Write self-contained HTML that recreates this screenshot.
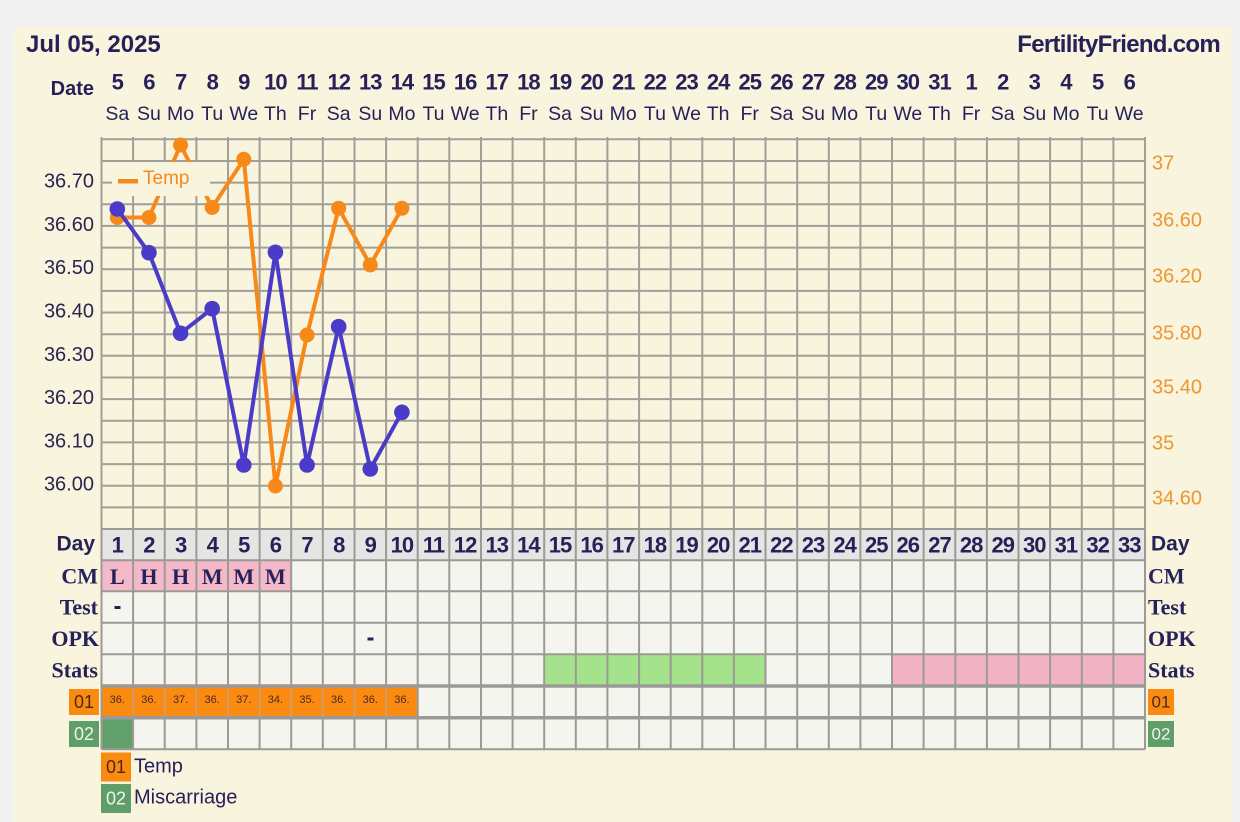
<!DOCTYPE html>
<html><head><meta charset="utf-8"><style>
html,body{margin:0;padding:0;background:#f1f1f1;}
svg{display:block;}
text{font-family:"Liberation Sans",sans-serif;}
text.sf{font-family:"Liberation Serif",serif;}
</style></head><body>
<svg width="1240" height="822" viewBox="0 0 1240 822" xmlns="http://www.w3.org/2000/svg">
<rect x="0" y="0" width="1240" height="822" fill="#f1f1f1"/>
<rect x="14" y="28" width="1218" height="794" fill="#f8f4de"/>

<!-- header -->
<text x="26" y="52" font-size="24" font-weight="bold" fill="#27215a">Jul 05, 2025</text>
<text x="1220" y="52" font-size="24" font-weight="bold" fill="#27215a" text-anchor="end" letter-spacing="-0.7">FertilityFriend.com</text>
<text x="94" y="89" font-size="20" font-weight="bold" fill="#27215a" text-anchor="end" dominant-baseline="central">Date</text>

<g font-size="22" font-weight="bold" fill="#27215a" text-anchor="middle" dominant-baseline="central" letter-spacing="-1">
<text x="117.3" y="82">5</text><text x="148.9" y="82">6</text><text x="180.6" y="82">7</text><text x="212.2" y="82">8</text><text x="243.8" y="82">9</text><text x="275.4" y="82">10</text><text x="307.0" y="82">11</text><text x="338.7" y="82">12</text><text x="370.3" y="82">13</text><text x="401.9" y="82">14</text><text x="433.5" y="82">15</text><text x="465.1" y="82">16</text><text x="496.8" y="82">17</text><text x="528.4" y="82">18</text><text x="560.0" y="82">19</text><text x="591.6" y="82">20</text><text x="623.2" y="82">21</text><text x="654.9" y="82">22</text><text x="686.5" y="82">23</text><text x="718.1" y="82">24</text><text x="749.7" y="82">25</text><text x="781.4" y="82">26</text><text x="813.0" y="82">27</text><text x="844.6" y="82">28</text><text x="876.2" y="82">29</text><text x="907.8" y="82">30</text><text x="939.5" y="82">31</text><text x="971.1" y="82">1</text><text x="1002.7" y="82">2</text><text x="1034.3" y="82">3</text><text x="1065.9" y="82">4</text><text x="1097.6" y="82">5</text><text x="1129.2" y="82">6</text>
</g>
<g font-size="19.5" fill="#27215a" text-anchor="middle" dominant-baseline="central">
<text x="117.3" y="114">Sa</text><text x="148.9" y="114">Su</text><text x="180.6" y="114">Mo</text><text x="212.2" y="114">Tu</text><text x="243.8" y="114">We</text><text x="275.4" y="114">Th</text><text x="307.0" y="114">Fr</text><text x="338.7" y="114">Sa</text><text x="370.3" y="114">Su</text><text x="401.9" y="114">Mo</text><text x="433.5" y="114">Tu</text><text x="465.1" y="114">We</text><text x="496.8" y="114">Th</text><text x="528.4" y="114">Fr</text><text x="560.0" y="114">Sa</text><text x="591.6" y="114">Su</text><text x="623.2" y="114">Mo</text><text x="654.9" y="114">Tu</text><text x="686.5" y="114">We</text><text x="718.1" y="114">Th</text><text x="749.7" y="114">Fr</text><text x="781.4" y="114">Sa</text><text x="813.0" y="114">Su</text><text x="844.6" y="114">Mo</text><text x="876.2" y="114">Tu</text><text x="907.8" y="114">We</text><text x="939.5" y="114">Th</text><text x="971.1" y="114">Fr</text><text x="1002.7" y="114">Sa</text><text x="1034.3" y="114">Su</text><text x="1065.9" y="114">Mo</text><text x="1097.6" y="114">Tu</text><text x="1129.2" y="114">We</text>
</g>

<!-- chart grid -->
<path stroke="#a19f97" stroke-width="2" fill="none" d="
M101.5 137V529 M133.1 137V529 M164.7 137V529 M196.4 137V529 M228.0 137V529 M259.6 137V529 M291.2 137V529 M322.8 137V529 M354.5 137V529 M386.1 137V529 M417.7 137V529 M449.3 137V529 M481.0 137V529 M512.6 137V529 M544.2 137V529 M575.8 137V529 M607.4 137V529 M639.1 137V529 M670.7 137V529 M702.3 137V529 M733.9 137V529 M765.5 137V529 M797.2 137V529 M828.8 137V529 M860.4 137V529 M892.0 137V529 M923.6 137V529 M955.3 137V529 M986.9 137V529 M1018.5 137V529 M1050.1 137V529 M1081.8 137V529 M1113.4 137V529 M1145.0 137V529
M101.5 139.3H1145 M101.5 161.0H1145 M101.5 182.6H1145 M101.5 204.3H1145 M101.5 225.9H1145 M101.5 247.6H1145 M101.5 269.2H1145 M101.5 290.9H1145 M101.5 312.5H1145 M101.5 334.2H1145 M101.5 355.8H1145 M101.5 377.5H1145 M101.5 399.1H1145 M101.5 420.8H1145 M101.5 442.4H1145 M101.5 464.1H1145 M101.5 485.7H1145 M101.5 507.4H1145"/>

<!-- left axis labels -->
<g font-size="20" fill="#2a2450" text-anchor="end" dominant-baseline="central">
<text x="94" y="181.6">36.70</text><text x="94" y="224.9">36.60</text><text x="94" y="268.2">36.50</text><text x="94" y="311.5">36.40</text><text x="94" y="354.8">36.30</text><text x="94" y="398.1">36.20</text><text x="94" y="441.4">36.10</text><text x="94" y="484.7">36.00</text>
</g>
<!-- right axis labels -->
<g font-size="20" fill="#ee9630" dominant-baseline="central">
<text x="1152" y="163.3">37</text><text x="1152" y="220.5">36.60</text><text x="1152" y="276.5">36.20</text><text x="1152" y="333.3">35.80</text><text x="1152" y="387.5">35.40</text><text x="1152" y="443.3">35</text><text x="1152" y="498.5">34.60</text>
</g>

<!-- orange series -->
<polyline fill="none" stroke="#f7891a" stroke-width="4" stroke-linejoin="round" points="117.31,217.5 148.93,217.5 180.55,145 212.17,207.5 243.79,159.3 275.42,486 307.04,335 338.66,208.3 370.28,265 401.9,208.3"/>
<g fill="#f7891a">
<circle cx="117.31" cy="217.5" r="7.5"/><circle cx="148.93" cy="217.5" r="7.5"/><circle cx="180.55" cy="145" r="7.5"/><circle cx="212.17" cy="207.5" r="7.5"/><circle cx="243.79" cy="159.3" r="7.5"/><circle cx="275.42" cy="486" r="7.5"/><circle cx="307.04" cy="335" r="7.5"/><circle cx="338.66" cy="208.3" r="7.5"/><circle cx="370.28" cy="265" r="7.5"/><circle cx="401.9" cy="208.3" r="7.5"/>
</g>
<!-- purple series -->
<polyline fill="none" stroke="#4a3cc8" stroke-width="4" stroke-linejoin="round" points="117.31,209 148.93,252.7 180.55,333.3 212.17,308.7 243.79,465 275.42,252.3 307.04,465 338.66,326.7 370.28,469 401.9,412.3"/>
<g fill="#4a3cc8">
<circle cx="117.31" cy="209" r="7.8"/><circle cx="148.93" cy="252.7" r="7.8"/><circle cx="180.55" cy="333.3" r="7.8"/><circle cx="212.17" cy="308.7" r="7.8"/><circle cx="243.79" cy="465" r="7.8"/><circle cx="275.42" cy="252.3" r="7.8"/><circle cx="307.04" cy="465" r="7.8"/><circle cx="338.66" cy="326.7" r="7.8"/><circle cx="370.28" cy="469" r="7.8"/><circle cx="401.9" cy="412.3" r="7.8"/>
</g>

<!-- chart legend -->
<rect x="112" y="162" width="98" height="34" fill="#f8f4de"/>
<rect x="118" y="179" width="20" height="4.5" fill="#f7891a"/>
<text x="143" y="178.5" font-size="19" fill="#f7891a" dominant-baseline="central">Temp</text>

<!-- table backgrounds -->
<rect x="101.5" y="529" width="1043.5" height="31.2" fill="#e5e5e3"/>
<rect x="101.5" y="560.2" width="1043.5" height="189.1" fill="#f5f5ef"/>
<rect x="101.5" y="560.2" width="189.7" height="31" fill="#f4b9c9"/>
<rect x="544.2" y="654.3" width="221.3" height="31.7" fill="#a5e28c"/>
<rect x="892.0" y="654.3" width="253" height="31.7" fill="#f2b2c5"/>
<rect x="101.5" y="686" width="316.2" height="31.7" fill="#fb8a10"/>
<rect x="101.5" y="717.7" width="31.6" height="31.6" fill="#62a06c"/>

<!-- table grid -->
<path stroke="#9c9a95" stroke-width="2" fill="none" d="
M101.5 529V749.3 M133.1 529V749.3 M164.7 529V749.3 M196.4 529V749.3 M228.0 529V749.3 M259.6 529V749.3 M291.2 529V749.3 M322.8 529V749.3 M354.5 529V749.3 M386.1 529V749.3 M417.7 529V749.3 M449.3 529V749.3 M481.0 529V749.3 M512.6 529V749.3 M544.2 529V749.3 M575.8 529V749.3 M607.4 529V749.3 M639.1 529V749.3 M670.7 529V749.3 M702.3 529V749.3 M733.9 529V749.3 M765.5 529V749.3 M797.2 529V749.3 M828.8 529V749.3 M860.4 529V749.3 M892.0 529V749.3 M923.6 529V749.3 M955.3 529V749.3 M986.9 529V749.3 M1018.5 529V749.3 M1050.1 529V749.3 M1081.8 529V749.3 M1113.4 529V749.3 M1145.0 529V749.3
M101.5 529H1145 M101.5 560.2H1145 M101.5 591.2H1145 M101.5 622.7H1145 M101.5 654.3H1145 M101.5 749.3H1145"/>
<path stroke="#e59a55" stroke-width="1.5" fill="none" d="M133.1 688V716 M164.7 688V716 M196.4 688V716 M228.0 688V716 M259.6 688V716 M291.2 688V716 M322.8 688V716 M354.5 688V716 M386.1 688V716"/>
<path stroke="#9a9a98" stroke-width="3.5" fill="none" d="M101.5 686H1145 M101.5 717.7H1145"/>

<!-- day numbers -->
<g font-size="22" font-weight="bold" fill="#27215a" text-anchor="middle" dominant-baseline="central" letter-spacing="-1">
<text x="117.3" y="545">1</text><text x="148.9" y="545">2</text><text x="180.6" y="545">3</text><text x="212.2" y="545">4</text><text x="243.8" y="545">5</text><text x="275.4" y="545">6</text><text x="307.0" y="545">7</text><text x="338.7" y="545">8</text><text x="370.3" y="545">9</text><text x="401.9" y="545">10</text><text x="433.5" y="545">11</text><text x="465.1" y="545">12</text><text x="496.8" y="545">13</text><text x="528.4" y="545">14</text><text x="560.0" y="545">15</text><text x="591.6" y="545">16</text><text x="623.2" y="545">17</text><text x="654.9" y="545">18</text><text x="686.5" y="545">19</text><text x="718.1" y="545">20</text><text x="749.7" y="545">21</text><text x="781.4" y="545">22</text><text x="813.0" y="545">23</text><text x="844.6" y="545">24</text><text x="876.2" y="545">25</text><text x="907.8" y="545">26</text><text x="939.5" y="545">27</text><text x="971.1" y="545">28</text><text x="1002.7" y="545">29</text><text x="1034.3" y="545">30</text><text x="1065.9" y="545">31</text><text x="1097.6" y="545">32</text><text x="1129.2" y="545">33</text>
</g>

<!-- CM letters -->
<g font-size="22" font-weight="bold" fill="#27215a" text-anchor="middle" dominant-baseline="central">
<text class="sf" x="117.3" y="576.5">L</text><text class="sf" x="148.9" y="576.5">H</text><text class="sf" x="180.6" y="576.5">H</text><text class="sf" x="212.2" y="576.5">M</text><text class="sf" x="243.8" y="576.5">M</text><text class="sf" x="275.4" y="576.5">M</text>
</g>
<rect x="114.5" y="606" width="6" height="3" fill="#27215a"/>
<rect x="367.5" y="637.5" width="6" height="3" fill="#27215a"/>

<!-- row labels left -->
<g font-weight="bold" fill="#27215a" text-anchor="end" dominant-baseline="central">
<text x="95" y="544" font-size="21">Day</text>
<text class="sf" x="98" y="576" font-size="22">CM</text>
<text class="sf" x="98" y="607" font-size="22">Test</text>
<text class="sf" x="99" y="638.5" font-size="22">OPK</text>
<text class="sf" x="98" y="670" font-size="22">Stats</text>
</g>
<!-- row labels right -->
<g font-weight="bold" fill="#27215a" dominant-baseline="central">
<text x="1151" y="544" font-size="21">Day</text>
<text class="sf" x="1148" y="576" font-size="22">CM</text>
<text class="sf" x="1148" y="607" font-size="22">Test</text>
<text class="sf" x="1148" y="638.5" font-size="22">OPK</text>
<text class="sf" x="1148" y="670" font-size="22">Stats</text>
</g>

<!-- temp cell values -->
<g font-size="11" fill="#4a2a25" text-anchor="middle" dominant-baseline="central">
<text x="117.3" y="700">36.</text><text x="148.9" y="700">36.</text><text x="180.6" y="700">37.</text><text x="212.2" y="700">36.</text><text x="243.8" y="700">37.</text><text x="275.4" y="700">34.</text><text x="307.0" y="700">35.</text><text x="338.7" y="700">36.</text><text x="370.3" y="700">36.</text><text x="401.9" y="700">36.</text>
</g>

<!-- row tags -->
<rect x="69" y="689" width="30" height="26" fill="#fb8a10"/>
<text x="84" y="702" font-size="18" fill="#4a2a1a" text-anchor="middle" dominant-baseline="central">01</text>
<rect x="69" y="721" width="30" height="26" fill="#5f9e6a"/>
<text x="84" y="734" font-size="18" fill="#eef4ea" text-anchor="middle" dominant-baseline="central">02</text>
<rect x="1148" y="689" width="26" height="26" fill="#fb8a10"/>
<text x="1161" y="702" font-size="17" fill="#4a2a1a" text-anchor="middle" dominant-baseline="central">01</text>
<rect x="1148" y="721" width="26" height="26" fill="#5f9e6a"/>
<text x="1161" y="734" font-size="17" fill="#eef4ea" text-anchor="middle" dominant-baseline="central">02</text>

<!-- bottom legend -->
<rect x="101" y="752.5" width="30" height="29" fill="#fb8a10"/>
<text x="116" y="767" font-size="18" fill="#4a2a1a" text-anchor="middle" dominant-baseline="central">01</text>
<text x="134" y="766.5" font-size="20" fill="#27215a" dominant-baseline="central">Temp</text>
<rect x="101" y="784" width="30" height="29" fill="#5f9e6a"/>
<text x="116" y="798.5" font-size="18" fill="#eef4ea" text-anchor="middle" dominant-baseline="central">02</text>
<text x="134" y="797.5" font-size="20" fill="#27215a" dominant-baseline="central">Miscarriage</text>
</svg>
</body></html>
